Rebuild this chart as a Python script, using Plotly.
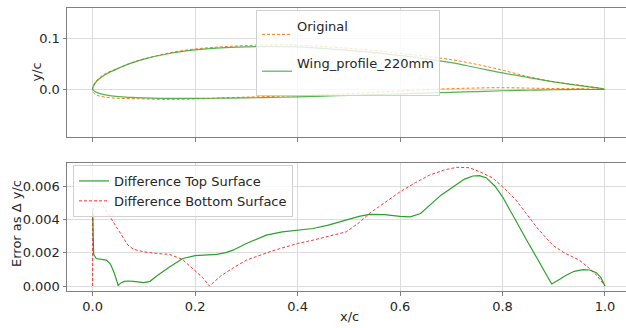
import plotly.graph_objects as go

# ---------------- data ----------------
airfoil_x = [0, 0.005, 0.0125, 0.025, 0.05, 0.075, 0.1, 0.15, 0.2, 0.25, 0.3, 0.35, 0.4,
             0.45, 0.5, 0.55, 0.6, 0.65, 0.7, 0.75, 0.8, 0.85, 0.9, 0.95, 1.0]

wing_upper = [0, 0.012, 0.020, 0.029, 0.041, 0.051, 0.059, 0.070, 0.077, 0.081, 0.083, 0.084,
              0.083, 0.080, 0.076, 0.0715, 0.066, 0.060, 0.052, 0.042, 0.032, 0.023, 0.0145,
              0.007, 0]
wing_lower = [0, -0.005, -0.008, -0.011, -0.0145, -0.016, -0.017, -0.018, -0.018, -0.0175,
              -0.017, -0.016, -0.015, -0.0135, -0.012, -0.0105, -0.009, -0.0075, -0.006,
              -0.0045, -0.003, -0.002, -0.001, -0.0004, 0]

orig_upper = [0, 0.0137, 0.0216, 0.0306, 0.041, 0.0513, 0.0592, 0.0711, 0.0788, 0.0829,
              0.0855, 0.0871, 0.0863, 0.0836, 0.080, 0.0758, 0.0702, 0.0647, 0.0579, 0.0486,
              0.0373, 0.0246, 0.0146, 0.008, 0]
orig_lower = [0, -0.010, -0.0131, -0.0155, -0.0179, -0.0183, -0.019, -0.0199, -0.0189,
              -0.017, -0.0155, -0.014, -0.0125, -0.0106, -0.0087, -0.006, -0.0034, -0.0009,
              0.0011, 0.0024, 0.003, 0.0022, 0.0014, 0.0011, 0]

top_diff_x = [0, 0.002, 0.007, 0.015, 0.027, 0.035, 0.042, 0.05, 0.056, 0.062, 0.069, 0.08,
              0.09, 0.1, 0.112, 0.125, 0.15, 0.176, 0.2, 0.22, 0.242, 0.26, 0.274, 0.3, 0.339,
              0.37, 0.4, 0.43, 0.46, 0.495, 0.52, 0.54, 0.57, 0.6, 0.62, 0.64, 0.658, 0.68,
              0.704, 0.725, 0.742, 0.755, 0.768, 0.785, 0.80, 0.815, 0.833, 0.85, 0.866, 0.882,
              0.896, 0.91, 0.924, 0.94, 0.957, 0.97, 0.983, 0.992, 1.0]
top_diff = [0.0045, 0.0019, 0.00165, 0.0016, 0.00155, 0.0013, 0.0008, 0.00004, 0.0002,
            0.00028, 0.0003, 0.00028, 0.00022, 0.0002, 0.00028, 0.0006, 0.00114, 0.00165,
            0.00182, 0.00186, 0.0019, 0.002, 0.00215, 0.00255, 0.00305, 0.00325, 0.00335,
            0.00345, 0.00365, 0.00395, 0.00418, 0.0043, 0.00428, 0.00418, 0.00415, 0.00435,
            0.00485, 0.00545, 0.00596, 0.0064, 0.0066, 0.00662, 0.0065, 0.006, 0.00535, 0.0045,
            0.00355, 0.0026, 0.00174, 0.0009, 0.00012, 0.00038, 0.00064, 0.00088, 0.00098,
            0.00096, 0.0008, 0.0005, 0]

bot_diff_x = [0, 0.0005, 0.003, 0.008, 0.015, 0.025, 0.035, 0.05, 0.06, 0.069, 0.08, 0.1,
              0.125, 0.15, 0.175, 0.2, 0.215, 0.228, 0.25, 0.275, 0.3, 0.35, 0.4, 0.43, 0.46,
              0.495, 0.52, 0.54, 0.57, 0.6, 0.63, 0.658, 0.685, 0.71, 0.735, 0.755, 0.78,
              0.80, 0.825, 0.846, 0.87, 0.898, 0.92, 0.95, 0.97, 0.985, 1.0]
bot_diff = [0, 0.0045, 0.0049, 0.00515, 0.0050, 0.0046, 0.0041, 0.0034, 0.0029, 0.00245,
            0.0022, 0.00205, 0.00195, 0.0019, 0.0016, 0.00094, 0.0005, 0.0, 0.0006, 0.0011,
            0.00155, 0.0021, 0.00255, 0.00275, 0.0030, 0.00325, 0.0038, 0.00435, 0.0050,
            0.00565, 0.0062, 0.00666, 0.00695, 0.00712, 0.0071, 0.00686, 0.0065, 0.00596,
            0.0052, 0.00435, 0.0034, 0.00245, 0.0020, 0.00155, 0.00105, 0.0006, 0]

x_tick_vals = [0, 0.2, 0.4, 0.6, 0.8, 1.0]
x_tick_text = ["0.0", "0.2", "0.4", "0.6", "0.8", "1.0"]
y1_tick_vals = [0.0, 0.1]
y1_tick_text = ["0.0", "0.1"]
y2_tick_vals = [0, 0.002, 0.004, 0.006]
y2_tick_text = ["0.000", "0.002", "0.004", "0.006"]

# ---------------- figure ----------------
ORANGE = "#ff7f0e"
GREEN = "#2ca02c"
RED = "rgba(255,0,0,0.8)"
FONT = "DejaVu Sans"
TXT = "#262626"

fig = go.Figure()

orig_x = list(reversed(airfoil_x)) + airfoil_x[1:]
orig_y = list(reversed(orig_upper)) + orig_lower[1:]
wing_x = list(reversed(airfoil_x)) + airfoil_x[1:]
wing_y = list(reversed(wing_upper)) + wing_lower[1:]

fig.add_trace(go.Scatter(x=orig_x, y=orig_y, mode="lines", name="Original<br> ",
                         line=dict(color=ORANGE, width=1, dash="3px,2px"),
                         line_shape="spline", xaxis="x", yaxis="y", legend="legend"))
fig.add_trace(go.Scatter(x=wing_x, y=wing_y, mode="lines", name="Wing_profile_220mm<br> ",
                         line=dict(color="rgba(44,160,44,0.8)", width=1.2),
                         line_shape="spline", xaxis="x", yaxis="y", legend="legend"))

fig.add_trace(go.Scatter(x=top_diff_x, y=top_diff, mode="lines", name="Difference Top Surface",
                         line=dict(color=GREEN, width=1.2),
                         xaxis="x2", yaxis="y2", legend="legend2"))
fig.add_trace(go.Scatter(x=bot_diff_x, y=bot_diff, mode="lines", name="Difference Bottom Surface",
                         line=dict(color=RED, width=1, dash="3px,2px"),
                         xaxis="x2", yaxis="y2", legend="legend2"))

W, H = 626, 328
ml, mr, mt, mb = 67, 0, 8, 37
ph = H - mt - mb
pw = W - ml - mr

def py(pix):
    return (H - mb - pix) / ph

def px(pix):
    return (pix - ml) / pw

axis_common = dict(
    showline=True, linecolor="#808080", linewidth=1, mirror=True,
    showgrid=True, gridcolor="#dcdcdc", gridwidth=1, zeroline=False,
    ticks="outside", ticklen=3.5, tickcolor="#808080", tickwidth=1,
    tickfont=dict(family=FONT, size=13, color=TXT),
)

xrange = [-0.05, 1.041]

fig.update_layout(
    width=W, height=H,
    margin=dict(l=ml, r=mr, t=mt, b=mb),
    paper_bgcolor="white", plot_bgcolor="white",
    font=dict(family=FONT, size=13, color=TXT),
    xaxis=dict(domain=[0, 1], range=xrange, anchor="y", showticklabels=False,
               tickvals=x_tick_vals, **axis_common),
    yaxis=dict(domain=[py(137), 1], range=[-0.0935, 0.159], anchor="x",
               tickvals=y1_tick_vals, ticktext=y1_tick_text, **axis_common),
    xaxis2=dict(domain=[0, 1], range=xrange, anchor="y2",
                tickvals=x_tick_vals, ticktext=x_tick_text, **axis_common),
    yaxis2=dict(domain=[0, py(163)], range=[-0.0003, 0.00738], anchor="x2",
                tickvals=y2_tick_vals, ticktext=y2_tick_text, **axis_common),
    legend=dict(x=px(256), y=py(10), xanchor="left", yanchor="top",
                bgcolor="rgba(255,255,255,0.8)", bordercolor="#d0d0d0", borderwidth=1,
                font=dict(family=FONT, size=13, color=TXT), valign="middle",
                tracegroupgap=0),
    legend2=dict(x=px(73), y=py(165), xanchor="left", yanchor="top",
                 bgcolor="rgba(255,255,255,0.8)", bordercolor="#d0d0d0", borderwidth=1,
                 font=dict(family=FONT, size=13, color=TXT)),
    showlegend=True,
    annotations=[
        dict(text="y/c", xref="paper", yref="paper", x=px(36), y=py(72.5), textangle=-90,
             showarrow=False, xanchor="center", yanchor="middle",
             font=dict(family=FONT, size=13, color=TXT)),
        dict(text="Error as Δ y/c", xref="paper", yref="paper", x=px(16), y=py(224),
             textangle=-90, showarrow=False, xanchor="center", yanchor="middle",
             font=dict(family=FONT, size=13, color=TXT)),
        dict(text="x/c", xref="paper", yref="paper", x=px(349), y=py(316.5),
             showarrow=False, xanchor="center", yanchor="middle",
             font=dict(family=FONT, size=13, color=TXT)),
    ],
)

fig.write_html("out.html")
